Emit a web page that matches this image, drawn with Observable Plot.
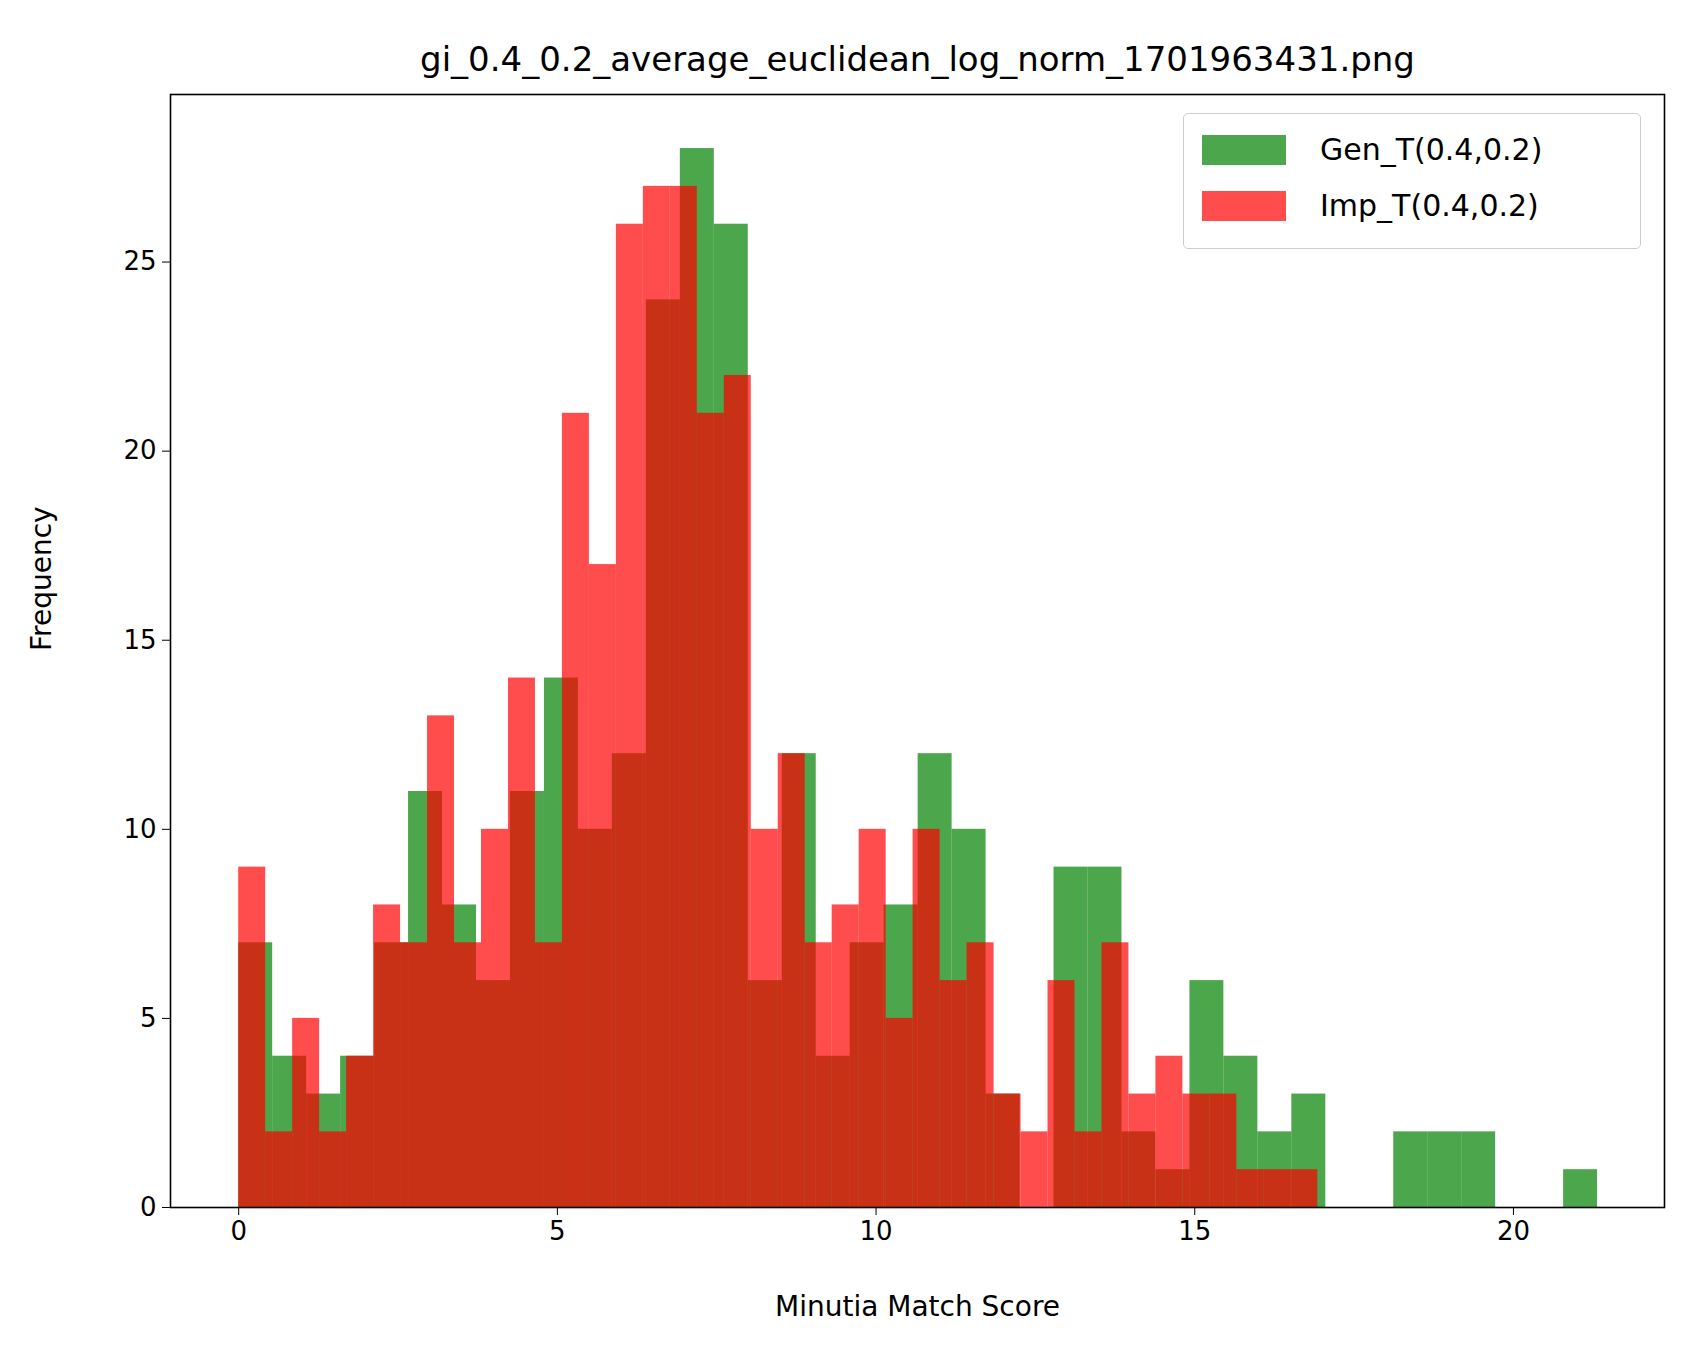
<!DOCTYPE html>
<html>
<head>
<meta charset="utf-8">
<script src="https://cdn.jsdelivr.net/npm/d3@7"></script>
<script src="https://cdn.jsdelivr.net/npm/@observablehq/plot@0.6"></script>
<style>
  body { margin: 0; background: white; font-family: "DejaVu Sans", sans-serif; }
  #wrap { position: relative; width: 1686px; height: 1357px; }
  #legend { position: absolute; left: 1183px; top: 113px; width: 458px; height: 136px;
    border: 1.5px solid #ccc; border-radius: 5px; background: rgba(255,255,255,0.8); box-sizing: border-box; }
  .item { position: absolute; left: 18px; font-size: 30px; display: flex; align-items: center; }
  .sw { width: 84px; height: 30px; margin-right: 34px; }
</style>
</head>
<body>
<div id="wrap">
  <div id="chart"></div>
  <div id="legend">
    <div class="item" style="top:18px"><div class="sw" style="background:rgba(0,128,0,0.7)"></div>Gen_T(0.4,0.2)</div>
    <div class="item" style="top:74px"><div class="sw" style="background:rgba(255,0,0,0.7)"></div>Imp_T(0.4,0.2)</div>
  </div>
</div>
<script>
// histogram counts
const genCounts = [7,4,3,4,7,11,8,6,11,14,10,12,24,28,26,6,12,4,7,8,12,10,3,0,9,9,2,1,6,4,2,3,0,0,2,2,2,0,0,1];
const impCounts = [9,2,5,2,4,8,7,13,7,10,14,7,21,17,26,27,27,21,22,10,12,7,8,10,5,10,6,7,3,2,6,2,7,3,4,3,3,1,1,1];
const genMax = 21.32;
const impMax = 16.93;

const toBins = (counts, max, series) => {
  const w = max / counts.length;
  return counts.map((c, i) => ({x1: i * w, x2: (i + 1) * w, y: c, series}));
};
const gen = toBins(genCounts, genMax, "Gen");
const imp = toBins(impCounts, impMax, "Imp");

const chart = Plot.plot({
  width: 1686,
  height: 1357,
  marginLeft: 170,
  marginRight: 22,
  marginTop: 94,
  marginBottom: 150,
  style: {fontFamily: "DejaVu Sans, sans-serif", fontSize: "26px", color: "black", background: "white"},
  x: {domain: [-1.07, 22.37], ticks: [0, 5, 10, 15, 20], tickSize: 8, label: null},
  y: {domain: [0, 29.43], ticks: [0, 5, 10, 15, 20, 25], tickSize: 8, label: null},
  marks: [
    Plot.rectY(gen, {x1: "x1", x2: "x2", y: "y", fill: "green", fillOpacity: 0.7}),
    Plot.rectY(imp, {x1: "x1", x2: "x2", y: "y", fill: "red", fillOpacity: 0.7}),
    Plot.axisX({ticks: [0, 5, 10, 15, 20], tickSize: 8, tickPadding: 6, fontSize: 26, label: null}),
    Plot.axisY({ticks: [0, 5, 10, 15, 20, 25], tickSize: 8, tickPadding: 6, fontSize: 26, label: null}),
    Plot.frame({stroke: "black", strokeWidth: 1.6}),
    Plot.text(["gi_0.4_0.2_average_euclidean_log_norm_1701963431.png"], {frameAnchor: "top", dy: -48, fontSize: 34}),
    Plot.text(["Minutia Match Score"], {frameAnchor: "bottom", dy: 108, fontSize: 28}),
    Plot.text(["Frequency"], {frameAnchor: "left", dx: -128, rotate: -90, fontSize: 28})
  ]
});
document.getElementById("chart").append(chart);
</script>
</body>
</html>
